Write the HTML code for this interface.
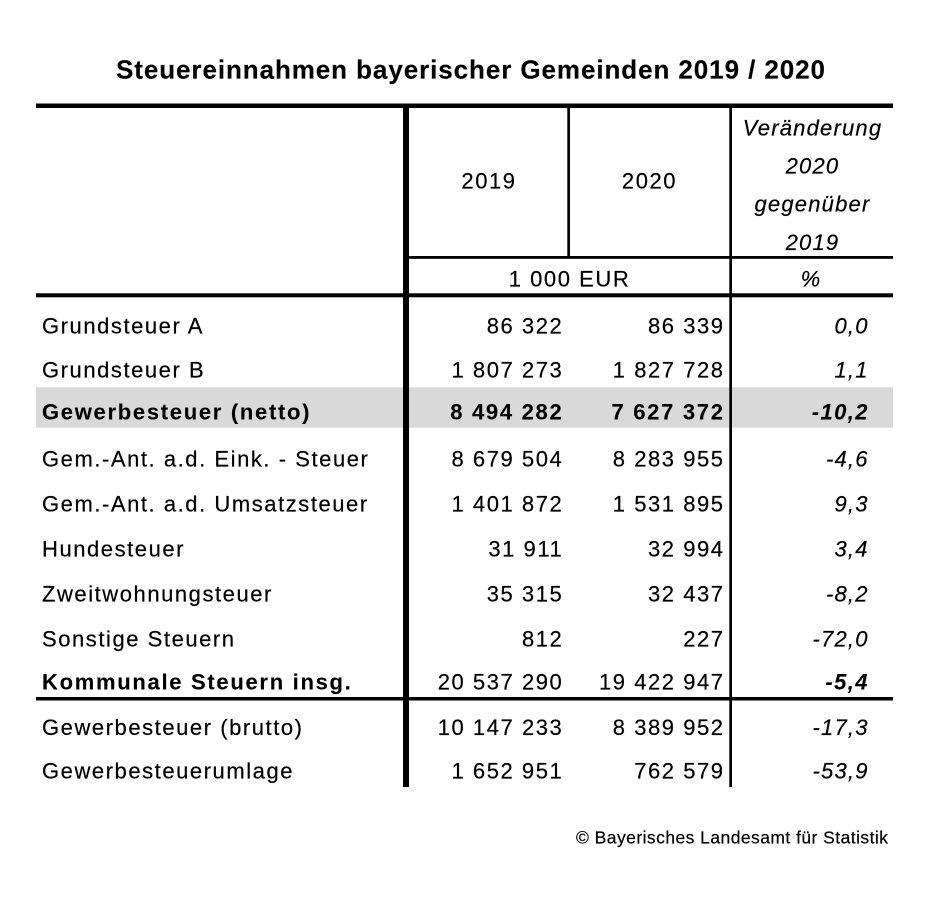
<!DOCTYPE html>
<html>
<head>
<meta charset="utf-8">
<style>
  html, body { margin:0; padding:0; background:#fff; }
  svg { display:block; }
  text { font-family: "Liberation Sans", Arial, sans-serif; fill:#000; stroke:#000; stroke-width:0.2px; }
  .r { font-size:22px; letter-spacing:1.55px; }
  .b { font-size:22px; font-weight:bold; letter-spacing:1.7px; stroke-width:0.1px; }
  .i { font-size:22px; font-style:italic; letter-spacing:1.2px; }
  .bi { font-size:22px; font-weight:bold; font-style:italic; letter-spacing:1.4px; stroke-width:0.1px; }
  .e { text-anchor:end; }
  .m { text-anchor:middle; }
</style>
</head>
<body>
<svg width="927" height="906" viewBox="0 0 927 906" xmlns="http://www.w3.org/2000/svg">
  <rect x="0" y="0" width="927" height="906" fill="#fff"/>

  <!-- Title -->
  <text x="116" y="78.5" font-size="26" font-weight="bold" style="stroke-width:0.15px" textLength="709" lengthAdjust="spacing">Steuereinnahmen bayerischer Gemeinden 2019 / 2020</text>

  <!-- highlighted row -->
  <rect x="36" y="387.3" width="857" height="40.4" fill="#d9d9d9"/>

  <!-- horizontal lines -->
  <rect x="36" y="103.5" width="857" height="4.5" fill="#000"/>
  <rect x="409" y="256" width="484" height="2.8" fill="#000"/>
  <rect x="36" y="293.3" width="857" height="4" fill="#000"/>
  <rect x="36" y="697" width="857" height="3.5" fill="#000"/>

  <!-- vertical lines -->
  <rect x="403" y="103.5" width="6" height="683.5" fill="#000"/>
  <rect x="567.3" y="108" width="2.7" height="148" fill="#000"/>
  <rect x="729.3" y="108" width="2.7" height="679" fill="#000"/>

  <!-- Header -->
  <text class="r m" x="489" y="188.3">2019</text>
  <text class="r m" x="649.5" y="188.3">2020</text>
  <text class="i m" x="812.5" y="135.5">Veränderung</text>
  <text class="i m" x="812.5" y="173.3">2020</text>
  <text class="i m" x="812.5" y="211.7">gegenüber</text>
  <text class="i m" x="812.5" y="250">2019</text>
  <text class="r m" x="569.5" y="286.5">1 000 EUR</text>
  <text class="i m" x="811" y="286.5">%</text>

  <!-- Rows -->
  <text class="r" x="42" y="333.7">Grundsteuer A</text>
  <text class="r e" x="563.3" y="333.7">86 322</text>
  <text class="r e" x="724.6" y="333.7">86 339</text>
  <text class="i e" x="868.7" y="333.7">0,0</text>

  <text class="r" x="42" y="377.7">Grundsteuer B</text>
  <text class="r e" x="563.3" y="377.7">1 807 273</text>
  <text class="r e" x="724.6" y="377.7">1 827 728</text>
  <text class="i e" x="868.7" y="377.7">1,1</text>

  <text class="b" x="42" y="419.3">Gewerbesteuer (netto)</text>
  <text class="b e" x="563.4" y="419.3">8 494 282</text>
  <text class="b e" x="724.7" y="419.3">7 627 372</text>
  <text class="bi e" x="868.9" y="419.3">-10,2</text>

  <text class="r" x="42" y="466.7">Gem.-Ant. a.d. Eink. - Steuer</text>
  <text class="r e" x="563.3" y="466.7">8 679 504</text>
  <text class="r e" x="724.6" y="466.7">8 283 955</text>
  <text class="i e" x="868.7" y="466.7">-4,6</text>

  <text class="r" x="42" y="511.7">Gem.-Ant. a.d. Umsatzsteuer</text>
  <text class="r e" x="563.3" y="511.7">1 401 872</text>
  <text class="r e" x="724.6" y="511.7">1 531 895</text>
  <text class="i e" x="868.7" y="511.7">9,3</text>

  <text class="r" x="42" y="556.7">Hundesteuer</text>
  <text class="r e" x="563.3" y="556.7">31 911</text>
  <text class="r e" x="724.6" y="556.7">32 994</text>
  <text class="i e" x="868.7" y="556.7">3,4</text>

  <text class="r" x="42" y="601.7">Zweitwohnungsteuer</text>
  <text class="r e" x="563.3" y="601.7">35 315</text>
  <text class="r e" x="724.6" y="601.7">32 437</text>
  <text class="i e" x="868.7" y="601.7">-8,2</text>

  <text class="r" x="42" y="646.7">Sonstige Steuern</text>
  <text class="r e" x="563.3" y="646.7">812</text>
  <text class="r e" x="724.6" y="646.7">227</text>
  <text class="i e" x="868.7" y="646.7">-72,0</text>

  <text class="b" x="42" y="689.3">Kommunale Steuern insg.</text>
  <text class="r e" x="563.3" y="689.3">20 537 290</text>
  <text class="r e" x="724.6" y="689.3">19 422 947</text>
  <text class="bi e" x="868.9" y="689.3">-5,4</text>

  <text class="r" x="42" y="735">Gewerbesteuer (brutto)</text>
  <text class="r e" x="563.3" y="735">10 147 233</text>
  <text class="r e" x="724.6" y="735">8 389 952</text>
  <text class="i e" x="868.7" y="735">-17,3</text>

  <text class="r" x="42" y="778.3">Gewerbesteuerumlage</text>
  <text class="r e" x="563.3" y="778.3">1 652 951</text>
  <text class="r e" x="724.6" y="778.3">762 579</text>
  <text class="i e" x="868.7" y="778.3">-53,9</text>

  <!-- Footer -->
  <text x="576" y="843.3" font-size="17.5" textLength="312" lengthAdjust="spacing">© Bayerisches Landesamt für Statistik</text>
</svg>
</body>
</html>
